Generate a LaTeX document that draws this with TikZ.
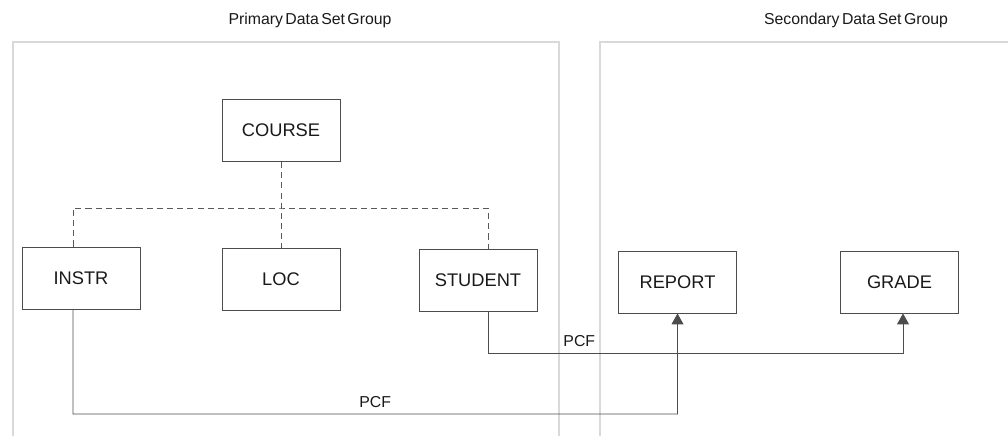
\documentclass[tikz,border=0pt]{standalone}
\usepackage{fontspec}
\setmainfont{Liberation Sans}
\newfontfamily\grpfont[WordSpace=0.55]{Liberation Sans}
\usetikzlibrary{arrows.meta,positioning}

\begin{document}
\begin{tikzpicture}[every node/.style={font=\fontsize{10.4}{12}\selectfont,text=black!90},
  seg/.style={draw=black!70,line width=0.5pt,minimum width=2.36cm,minimum height=1.24cm,inner sep=0pt},
  grp/.style={draw=black!15,line width=0.7pt},
  twin/.style={draw=black!65,line width=0.5pt,dash pattern=on 3.5pt off 2.3pt},
  pcf/.style={draw=black!70,line width=0.5pt,-{Triangle[length=0.22cm,width=0.24cm]}},
  lbl/.style={font=\fontsize{9}{11}\selectfont}]
  \useasboundingbox (0,0) rectangle (20.16,8.72);
  \draw[grp] (0.26,0)--(0.26,7.88)--(11.18,7.88)--(11.18,0);
  \draw[grp] (12.0,0)--(12.0,7.88)--(20.16,7.88);
  \node[font=\grpfont\fontsize{9}{11}\selectfont] (prim) at (6.2,8.32){Primary Data Set Group};
  \node[font=\grpfont\fontsize{9}{11}\selectfont] (sec) at (17.12,8.32){Secondary Data Set Group};
  \node[seg] (course) at (5.62,6.11){COURSE};
  \node[seg] (instr) at (1.62,3.16){INSTR};
  \node[seg] (loc) at (5.62,3.13){LOC};
  \node[seg] (student) at (9.56,3.12){STUDENT};
  \node[seg] (report) at (13.55,3.08){REPORT};
  \node[seg] (grade) at (17.99,3.08){GRADE};
  \coordinate (tee) at (5.62,4.56);
  \draw[twin] (course.south)--(loc.north);
  \draw[twin] ([xshift=-0.16cm]instr.north) |- (tee) -| ([xshift=0.2cm]student.north);
  \coordinate (hi) at (9.76,1.66);
  \coordinate (lo) at (1.46,0.44);
  \coordinate (gin) at ([xshift=0.07cm]grade.south);
  \draw[pcf] ([xshift=0.2cm]student.south) -- (hi) -- node[lbl,above,pos=0.22]{PCF} (hi -| gin) -- (gin);
  \draw[pcf] ([xshift=-0.16cm]instr.south) -- (lo) -- node[lbl,above]{PCF} (lo -| report.south) -- (report.south);
\end{tikzpicture}
\end{document}
